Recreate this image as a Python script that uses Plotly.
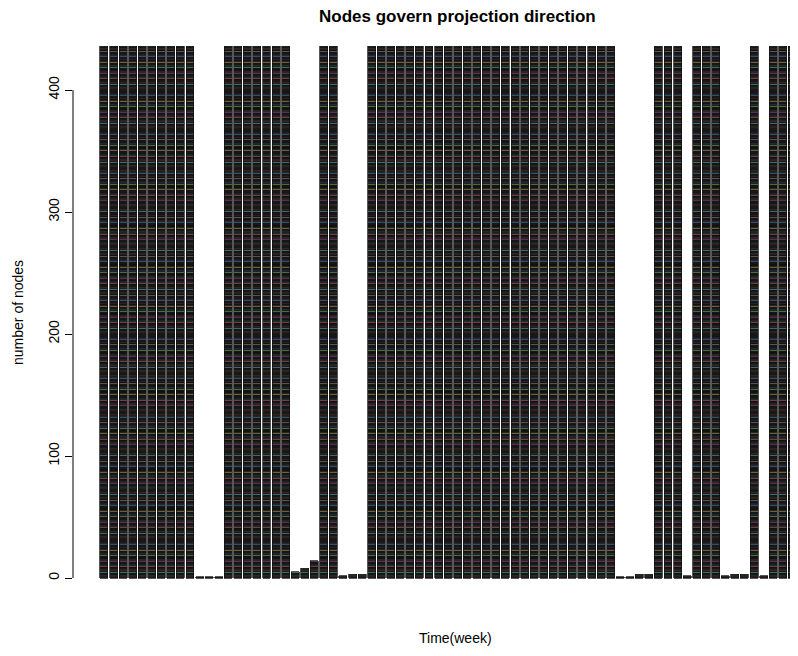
import plotly.graph_objects as go

# number of nodes per week (74 visible bars)
weeks = list(range(1, 75))
nodes = ([436] * 10 + [1, 1, 1] + [436] * 7 + [5, 8, 14] + [436] * 2 + [2, 3, 3] +
         [436] * 26 + [1, 1, 3, 3] + [436] * 3 + [2] + [436] * 3 + [2, 3, 3] +
         [436] + [2] + [436] * 3 + [2])

y_ticks = [0, 100, 200, 300, 400]
palette = ["#1a1a1a", "#7a3a44", "#4a6a3c", "#2f4f6e", "#3a6a6a", "#5e2a5c", "#6e6030", "#555555"]

x_idx = list(range(len(weeks)))
max_h = max(nodes)

fig = go.Figure()
for level in range(max_h):
    ys = [1 if h > level else None for h in nodes]
    fig.add_trace(go.Bar(
        x=x_idx, y=ys,
        marker=dict(color=palette[level % len(palette)],
                    line=dict(color="#111111", width=0.7)),
        showlegend=False, hoverinfo="skip",
    ))

# page body has an 8px margin, so the figure is 8px smaller on each axis
fig.update_layout(
    width=790, height=648,
    margin=dict(l=65, r=0, t=16, b=56),
    paper_bgcolor="white", plot_bgcolor="white",
    barmode="stack", bargap=1/6,
    font=dict(family="Liberation Sans, Arial, sans-serif", color="black", size=14),
    hovermode=False,
    xaxis=dict(range=[-3.24, 72.6], visible=False, fixedrange=True),
    yaxis=dict(range=[-18.0, 454.1], tickvals=y_ticks, ticktext=[str(v) for v in y_ticks],
               tickangle=-90, ticks="outside", ticklen=7, tickcolor="black",
               showgrid=False, zeroline=False, showline=False, automargin=False,
               tickfont=dict(size=14, color="black")),
    shapes=[dict(type="line", xref="paper", yref="y", x0=0, x1=0, y0=0, y1=400,
                 line=dict(color="black", width=1))],
    annotations=[
        dict(text="<b>Nodes govern projection direction</b>", xref="paper", yref="paper",
             x=0.5297, y=1.0122, showarrow=False, font=dict(size=17), borderpad=0,
             xanchor="center", yanchor="middle"),
        dict(text="Time(week)", xref="paper", yref="paper", x=0.527, y=-0.066,
             showarrow=False, font=dict(size=14), xanchor="center", yanchor="middle"),
        dict(text="number of nodes", xref="paper", yref="paper", x=-0.0759, y=0.5,
             showarrow=False, font=dict(size=14), textangle=-90,
             xanchor="center", yanchor="middle"),
    ],
)

fig.write_html("out.html")
